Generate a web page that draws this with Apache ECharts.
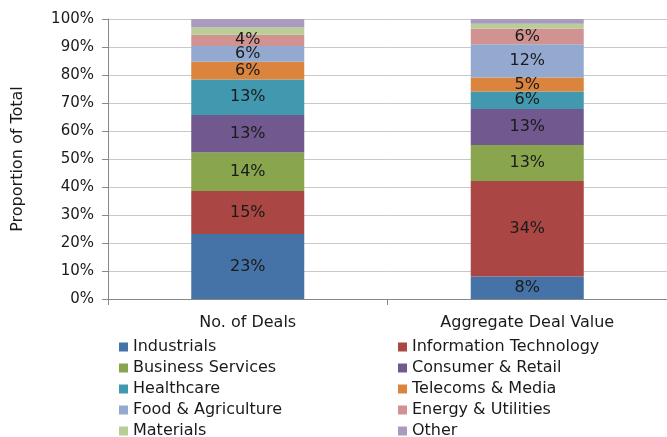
<!DOCTYPE html>
<html>
<head>
<meta charset="utf-8">
<script src="https://cdn.jsdelivr.net/npm/echarts@6/dist/echarts.min.js"></script>
<style>
  html, body { margin: 0; padding: 0; background: #fff; }
  #chart { width: 667px; height: 437px; }
</style>
</head>
<body>
<div id="chart"></div>
<script>
// categories on the x axis
const categories = ["No. of Deals", "Aggregate Deal Value"];

// sectors, in stacking order (bottom -> top)
const sectors = [
  "Industrials", "Information Technology", "Business Services", "Consumer & Retail",
  "Healthcare", "Telecoms & Media", "Food & Agriculture", "Energy & Utilities",
  "Materials", "Other"
];

// share of total (%) per sector: [No. of Deals, Aggregate Deal Value]
const industrials = [23.2, 8.0];
const infoTech = [15.4, 34.1];
const businessServices = [13.7, 12.9];
const consumerRetail = [13.4, 12.9];
const healthcare = [12.7, 6.2];
const telecomsMedia = [6.3, 5.0];
const foodAgriculture = [5.7, 11.9];
const energyUtilities = [4.0, 5.6];
const materials = [2.6, 1.7];
const other = [3.0, 1.7];

const yTicks = [0, 10, 20, 30, 40, 50, 60, 70, 80, 90, 100];

const seriesValues = [
  industrials, infoTech, businessServices, consumerRetail, healthcare,
  telecomsMedia, foodAgriculture, energyUtilities, materials, other
];
const colors = [
  "#4572A7", "#AA4643", "#89A54E", "#71588F", "#4198AF",
  "#DB843D", "#93A9CF", "#D19392", "#B9CD96", "#A99BBD"
];
// small slices at the top carry no label
const noLabel = ["Materials", "Other"];

const fontFamily = "DejaVu Sans";
const textColor = "#1a1a1a";

const chart = echarts.init(document.getElementById("chart"));

const series = sectors.map((name, i) => ({
  name: name,
  type: "bar",
  stack: "total",
  barWidth: 113,
  data: seriesValues[i],
  itemStyle: { color: colors[i] },
  label: {
    show: noLabel.indexOf(name) === -1,
    position: "inside",
    formatter: (p) => Math.round(p.value) + "%",
    color: textColor,
    fontFamily: fontFamily,
    fontSize: 16
  }
}));

const legendText = { color: textColor, fontFamily: fontFamily, fontSize: 16, lineHeight: 16 };

// two vertical legends side by side, like a two-column legend
function legendColumn(left, names) {
  return {
    orient: "vertical",
    left: left,
    top: 339,
    height: 120,
    padding: 0,
    itemWidth: 9,
    itemHeight: 9,
    itemGap: 5,
    icon: "rect",
    textStyle: legendText,
    data: names
  };
}

chart.setOption({
  animation: false,
  grid: { left: 108, right: -7, top: 19, bottom: 138 },
  legend: [
    legendColumn(119, sectors.filter((s, i) => i % 2 === 0)),
    legendColumn(398, sectors.filter((s, i) => i % 2 === 1))
  ],
  xAxis: {
    type: "category",
    data: categories,
    axisLine: { lineStyle: { color: "#888", width: 1 } },
    axisTick: { show: true, length: 6, lineStyle: { color: "#888" } },
    axisLabel: { color: textColor, fontFamily: fontFamily, fontSize: 16, margin: 16 }
  },
  yAxis: {
    type: "value",
    min: yTicks[0],
    max: yTicks[yTicks.length - 1],
    interval: 10,
    name: "Proportion of Total",
    nameLocation: "middle",
    nameGap: 82,
    nameTextStyle: { color: textColor, fontFamily: fontFamily, fontSize: 16 },
    axisLine: { show: true, lineStyle: { color: "#888" } },
    axisTick: { show: true, length: 6, lineStyle: { color: "#888" } },
    splitLine: { show: true, lineStyle: { color: "#c8c8c8" } },
    axisLabel: {
      color: textColor,
      fontFamily: fontFamily,
      fontSize: 15,
      margin: 14,
      formatter: (v) => v + "%"
    }
  },
  series: series
});
</script>
</body>
</html>
